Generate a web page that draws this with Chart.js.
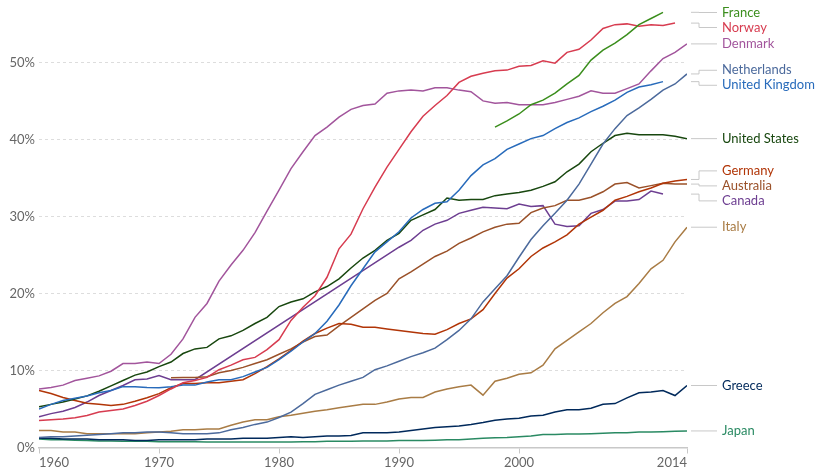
<!DOCTYPE html>
<html><head><meta charset="utf-8">
<script src="https://cdn.jsdelivr.net/npm/chart.js@4.4.0/dist/chart.umd.min.js"></script>
<style>html,body{margin:0;padding:0;background:#fff;}#wrap{width:820px;height:469px;position:relative;}</style>
</head><body><div id="wrap"><canvas id="c"></canvas></div>
<script>
const years = [1960,1961,1962,1963,1964,1965,1966,1967,1968,1969,1970,1971,1972,1973,1974,1975,1976,1977,1978,1979,1980,1981,1982,1983,1984,1985,1986,1987,1988,1989,1990,1991,1992,1993,1994,1995,1996,1997,1998,1999,2000,2001,2002,2003,2004,2005,2006,2007,2008,2009,2010,2011,2012,2013,2014];
const xTickYears = [1960,1970,1980,1990,2000,2014];
const yTickValues = [0,10,20,30,40,50];

const france = [null,null,null,null,null,null,null,null,null,null,null,null,null,null,null,null,null,null,null,null,null,null,null,null,null,null,null,null,null,null,null,null,null,null,null,null,null,null,41.6,42.4,43.3,44.5,45.1,46.0,47.2,48.3,50.3,51.6,52.5,53.6,54.9,55.7,56.5,null,null];
const norway = [3.5,3.6,3.7,3.85,4.15,4.6,4.8,5.0,5.45,6.0,6.75,7.6,8.4,8.7,9.1,10.1,10.7,11.4,11.7,12.7,14.0,16.5,18.2,19.7,22.1,25.8,27.7,31.0,33.8,36.4,38.7,41.0,43.0,44.4,45.7,47.4,48.2,48.6,48.9,49.0,49.5,49.6,50.2,49.9,51.3,51.7,52.9,54.4,54.9,55.0,54.7,54.9,54.8,55.1,null];
const denmark = [7.6,7.8,8.1,8.7,9.0,9.3,9.9,10.9,10.9,11.1,10.9,12.1,14.1,16.9,18.7,21.6,23.7,25.6,27.9,30.7,33.4,36.2,38.4,40.5,41.6,42.9,43.9,44.4,44.6,46.0,46.3,46.4,46.3,46.7,46.7,46.4,46.2,45.0,44.7,44.8,44.5,44.5,44.5,44.8,45.2,45.6,46.3,46.0,46.0,46.6,47.2,48.9,50.5,51.3,52.4];
const netherlands = [1.3,1.4,1.4,1.5,1.6,1.7,1.8,1.9,1.9,2.0,2.0,1.9,1.8,1.8,1.8,1.9,2.3,2.6,3.0,3.3,3.9,4.6,5.7,6.9,7.5,8.1,8.6,9.1,10.1,10.6,11.2,11.8,12.3,12.9,14.0,15.2,16.7,18.9,20.6,22.3,24.7,27.0,28.8,30.4,32.1,34.2,36.8,39.4,41.4,43.1,44.1,45.2,46.4,47.2,48.5];
const unitedKingdom = [5.0,5.6,6.1,6.4,6.7,7.1,7.4,7.9,7.9,7.8,7.75,7.9,8.1,8.1,8.5,8.8,8.8,9.2,9.8,10.4,11.4,12.5,13.7,14.8,16.4,18.5,21.0,23.2,25.4,26.7,28.0,29.8,30.9,31.7,31.9,33.4,35.3,36.7,37.5,38.7,39.4,40.1,40.5,41.4,42.2,42.8,43.6,44.3,45.1,46.1,46.8,47.1,47.5,null,null];
const unitedStates = [5.3,5.6,5.9,6.3,6.7,7.3,8.0,8.7,9.4,9.8,10.5,11.1,12.2,12.8,13.0,14.1,14.5,15.2,16.1,16.9,18.3,18.9,19.3,20.2,20.9,21.9,23.3,24.6,25.6,26.9,27.8,29.5,30.2,30.9,32.4,32.1,32.2,32.2,32.7,32.9,33.1,33.4,33.9,34.5,35.8,36.8,38.4,39.5,40.5,40.8,40.6,40.6,40.6,40.4,40.1];
const germany = [7.4,7.0,6.5,6.1,5.75,5.6,5.45,5.6,6.0,6.45,7.0,7.75,8.3,8.3,8.4,8.4,8.6,8.8,9.6,10.5,11.5,12.6,13.8,14.8,15.5,16.1,16.0,15.6,15.6,15.4,15.2,15.0,14.8,14.7,15.3,16.1,16.7,17.9,20.0,22.0,23.2,24.8,25.9,26.7,27.6,29.0,29.9,30.8,32.1,32.6,33.2,33.7,34.3,34.6,34.8];
const australia = [null,null,null,null,null,null,null,null,null,null,null,9.05,9.1,9.1,9.2,9.7,10.0,10.4,10.9,11.4,12.1,12.8,13.7,14.4,14.6,15.8,16.9,18.0,19.1,20.0,21.9,22.8,23.8,24.8,25.5,26.5,27.2,28.0,28.6,29.0,29.1,30.5,31.1,31.4,32.1,32.1,32.5,33.2,34.2,34.4,33.7,34.0,34.3,34.2,34.2];
const canada = [4.0,4.4,4.7,5.2,5.9,6.75,7.4,8.05,8.8,8.9,9.35,8.8,8.8,8.8,null,null,null,null,null,null,null,null,null,null,null,null,null,null,null,null,26.0,26.9,28.2,29.0,29.5,30.4,30.8,31.2,31.1,31.0,31.6,31.3,31.4,29.0,28.7,28.8,30.4,30.9,32.0,32.0,32.2,33.3,32.9,null,null];
const italy = [2.2,2.2,2.0,2.0,1.8,1.8,1.8,1.8,1.8,1.9,2.0,2.1,2.3,2.3,2.4,2.4,2.9,3.3,3.6,3.6,4.0,4.2,4.45,4.7,4.9,5.15,5.4,5.6,5.6,5.9,6.3,6.5,6.5,7.2,7.6,7.9,8.1,6.8,8.6,9.0,9.5,9.7,10.7,12.8,13.9,15.0,16.1,17.5,18.7,19.6,21.3,23.2,24.3,26.7,28.6];
const greece = [1.2,1.2,1.1,1.1,1.1,1.0,1.0,1.0,0.9,0.9,1.0,1.0,1.0,1.0,1.1,1.1,1.1,1.2,1.2,1.2,1.3,1.4,1.3,1.4,1.5,1.5,1.55,1.9,1.9,1.9,2.0,2.2,2.4,2.6,2.7,2.8,3.0,3.25,3.55,3.7,3.8,4.1,4.2,4.6,4.9,4.9,5.1,5.6,5.7,6.45,7.1,7.2,7.4,6.75,8.05];
const japan = [1.1,1.0,1.0,0.95,0.9,0.85,0.85,0.8,0.8,0.8,0.75,0.75,0.75,0.75,0.7,0.7,0.7,0.7,0.7,0.7,0.7,0.7,0.75,0.75,0.8,0.8,0.8,0.85,0.85,0.85,0.9,0.9,0.9,0.95,1.0,1.0,1.1,1.2,1.25,1.3,1.4,1.5,1.7,1.7,1.75,1.75,1.8,1.85,1.9,1.9,2.0,2.0,2.05,2.1,2.15];

const series = [
  ['France', france, '#3B8E1D', false],
  ['Norway', norway, '#D73C50', false],
  ['Denmark', denmark, '#A2559C', false],
  ['Netherlands', netherlands, '#4C6A9C', false],
  ['United Kingdom', unitedKingdom, '#286BBB', false],
  ['United States', unitedStates, '#18470F', false],
  ['Germany', germany, '#B13507', false],
  ['Australia', australia, '#9A5129', false],
  ['Canada', canada, '#6D3E91', true],
  ['Italy', italy, '#A97C45', false],
  ['Greece', greece, '#00295B', false],
  ['Japan', japan, '#2A8A63', false]
];

const FONT = 'Lato, "Noto Sans", sans-serif';

const endLabels = {
  id: 'endLabels',
  afterDatasetsDraw(chart) {
    const {ctx, chartArea, scales} = chart;
    const ys = scales.y;
    const items = chart.data.datasets.map(ds => {
      let last = null;
      for (let i = ds.data.length - 1; i >= 0; i--) { if (ds.data[i].y != null) { last = ds.data[i].y; break; } }
      return {text: ds.label, color: ds.borderColor, y0: ys.getPixelForValue(last)};
    }).sort((a, b) => a.y0 - b.y0);
    const gap = 15, minY = 12.5;
    let clusters = items.map(it => ({items: [it], c: it.y0}));
    let changed = true;
    while (changed) {
      changed = false;
      const f = clusters[0];
      const top = f.c - (f.items.length - 1) * gap / 2;
      if (top < minY - 0.01) { f.c += minY - top; f.fixed = true; }
      for (let i = 0; i < clusters.length - 1; i++) {
        const a = clusters[i], b = clusters[i + 1];
        const aBottom = a.c + (a.items.length - 1) * gap / 2;
        const bTop = b.c - (b.items.length - 1) * gap / 2;
        if (bTop - aBottom < gap - 0.01) {
          const its = a.items.concat(b.items);
          let c = its.reduce((s, t) => s + t.y0, 0) / its.length;
          clusters.splice(i, 2, {items: its, c});
          changed = true;
          break;
        }
      }
    }
    const x0 = chartArea.right + 4, xe = chartArea.right + 12, x1 = chartArea.right + 30;
    ctx.save();
    ctx.font = '13px ' + FONT;
    ctx.textBaseline = 'middle';
    ctx.textAlign = 'left';
    clusters.forEach(cl => {
      const start = cl.c - (cl.items.length - 1) * gap / 2;
      cl.items.forEach((it, k) => {
        const ly = start + k * gap;
        ctx.strokeStyle = '#c8c8c8';
        ctx.lineWidth = 1;
        ctx.beginPath();
        ctx.moveTo(x0, it.y0);
        ctx.lineTo(xe, it.y0);
        ctx.lineTo(xe, ly);
        ctx.lineTo(x1, ly);
        ctx.stroke();
        ctx.fillStyle = it.color;
        ctx.fillText(it.text, x1 + 5, ly);
      });
    });
    ctx.restore();
  }
};

new Chart(document.getElementById('c'), {
  type: 'line',
  data: {
    datasets: series.map(([name, vals, color, gaps]) => ({
      label: name,
      data: years.map((yr, i) => ({x: yr, y: vals[i]})),
      borderColor: color,
      backgroundColor: color,
      borderWidth: 1.5,
      pointRadius: 0,
      pointHoverRadius: 0,
      tension: 0,
      spanGaps: gaps,
      fill: false
    }))
  },
  options: {
    responsive: true,
    maintainAspectRatio: false,
    animation: false,
    events: [],
    layout: {padding: {top: 0, right: 133, bottom: 0, left: 0}},
    plugins: {legend: {display: false}, tooltip: {enabled: false}},
    scales: {
      x: {
        type: 'linear',
        min: 1960,
        max: 2014,
        afterBuildTicks: (s) => { s.ticks = xTickYears.map(v => ({value: v})); },
        afterFit: (s) => { s.height = 21.5; s.paddingLeft = 0; s.paddingRight = 0; },
        ticks: {
          align: 'inner',
          padding: 2,
          maxRotation: 0,
          autoSkip: false,
          color: '#666',
          font: {family: FONT, size: 13},
          callback: (v) => String(v)
        },
        grid: {display: true, drawOnChartArea: false, drawTicks: true, tickLength: 6, color: '#c8c8c8', lineWidth: 1},
        border: {display: true, color: '#c8c8c8', width: 1.5}
      },
      y: {
        min: 0,
        max: 58.1,
        afterBuildTicks: (s) => { s.ticks = yTickValues.map(v => ({value: v})); },
        afterFit: (s) => { s.width = 39; s.paddingTop = 0; s.paddingBottom = 0; },
        ticks: {
          padding: 4,
          color: '#666',
          font: {family: FONT, size: 13},
          callback: (v) => v + '%'
        },
        grid: {color: '#dddddd', lineWidth: 1, drawTicks: false},
        border: {display: false, dash: [3, 3]}
      }
    }
  },
  plugins: [endLabels]
});
</script>
</body></html>
